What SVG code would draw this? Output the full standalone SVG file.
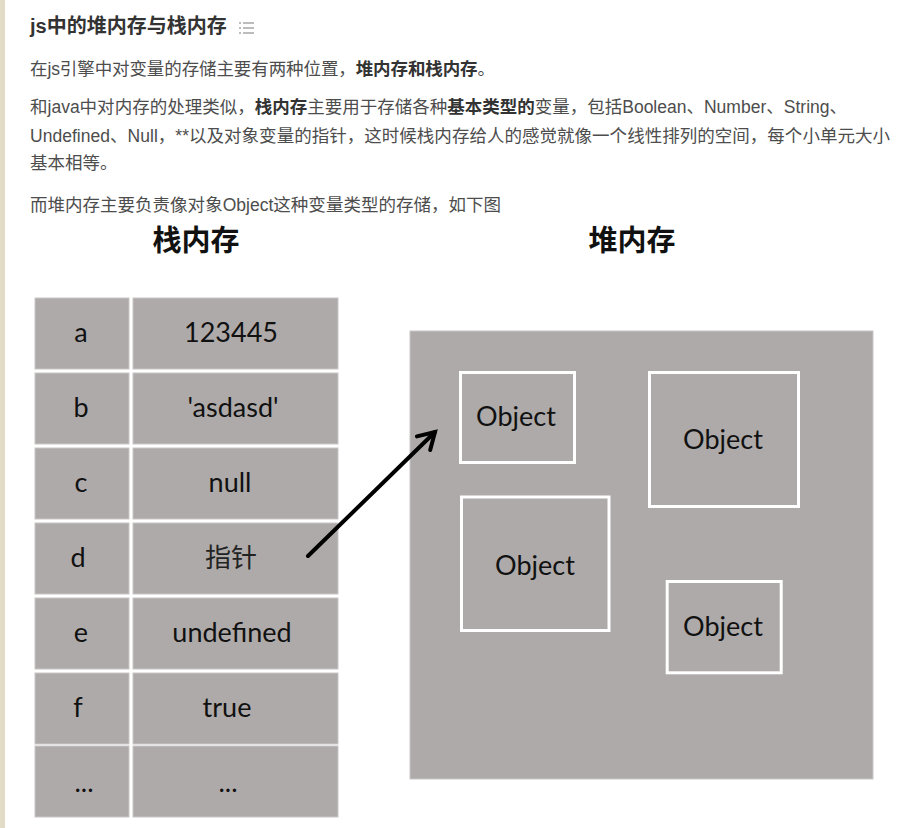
<svg xmlns="http://www.w3.org/2000/svg" width="904" height="828" viewBox="0 0 904 828">
<style>
.body{font-family:"Liberation Sans","Noto Sans CJK SC",sans-serif;font-size:17.5px;fill:#4d4d4d}
.b{font-weight:bold;fill:#333}
.title{font-family:"Liberation Sans","Noto Sans CJK SC",sans-serif;font-size:20px;font-weight:bold;fill:#333}
.head{font-family:"Noto Sans CJK SC",sans-serif;font-size:29px;font-weight:bold;fill:#111;text-anchor:middle}
.cell{fill:#aeaaa9;stroke:#c9c6c5;stroke-width:1}
.ct{font-family:Lato,"Noto Sans CJK SC",sans-serif;font-size:27px;fill:#111;text-anchor:middle}
.cjk{font-family:"Noto Sans CJK SC",sans-serif;font-size:26px;fill:#222;text-anchor:middle}
.obj{fill:#aeaaa9;stroke:#fff;stroke-width:3}
.icon{fill:#bdbdbd}
</style>
<defs>
<marker id="arr" markerUnits="userSpaceOnUse" markerWidth="30" markerHeight="30" refX="0" refY="0" viewBox="-20 -15 30 30" orient="auto" overflow="visible">
<path d="M -16 -9.5 L 0 0 L -16 9.5" fill="none" stroke="#000" stroke-width="4" stroke-linecap="round" stroke-linejoin="miter"/>
</marker>
</defs>
<rect x="0" y="0" width="904" height="828" fill="#fff"/>
<rect x="0" y="0" width="5" height="828" fill="#e2dcc6"/>

<g id="header">
<text class="title" x="30" y="33">js中的堆内存与栈内存</text>
<rect class="icon" x="239" y="22" width="2" height="2"/>
<rect class="icon" x="243" y="22" width="11" height="2"/>
<rect class="icon" x="239" y="27" width="2" height="2"/>
<rect class="icon" x="243" y="27" width="11" height="2"/>
<rect class="icon" x="239" y="32" width="2" height="2"/>
<rect class="icon" x="243" y="32" width="11" height="2"/>
<text class="body" x="30" y="74.5" textLength="465" lengthAdjust="spacing">在js引擎中对变量的存储主要有两种位置，<tspan class="b">堆内存和栈内存</tspan>。</text>
<text class="body" x="30" y="113" textLength="817" lengthAdjust="spacing">和java中对内存的处理类似，<tspan class="b">栈内存</tspan>主要用于存储各种<tspan class="b">基本类型的</tspan>变量，包括Boolean、Number、String、</text>
<text class="body" x="30" y="141.5" textLength="860" lengthAdjust="spacing">Undefined、Null，**以及对象变量的指针，这时候栈内存给人的感觉就像一个线性排列的空间，每个小单元大小</text>
<text class="body" x="30" y="169">基本相等。</text>
<text class="body" x="30" y="211" textLength="471" lengthAdjust="spacing">而堆内存主要负责像对象Object这种变量类型的存储，如下图</text>
</g>

<g id="stack">
<text class="head" x="196" y="251">栈内存</text>
<g id="row-a"><rect class="cell" x="35" y="298" width="94" height="71"/><rect class="cell" x="133" y="298" width="205" height="71"/><text class="ct" x="81" y="342">a</text><text class="ct" x="231" y="342">123445</text></g>
<g id="row-b"><rect class="cell" x="35" y="373" width="94" height="71"/><rect class="cell" x="133" y="373" width="205" height="71"/><text class="ct" x="81" y="417">b</text><text class="ct" x="233" y="417">'asdasd'</text></g>
<g id="row-c"><rect class="cell" x="35" y="448" width="94" height="71"/><rect class="cell" x="133" y="448" width="205" height="71"/><text class="ct" x="81" y="492">c</text><text class="ct" x="230" y="492">null</text></g>
<g id="row-d"><rect class="cell" x="35" y="523" width="94" height="71"/><rect class="cell" x="133" y="523" width="205" height="71"/><text class="ct" x="78" y="567">d</text><text class="cjk" x="231" y="567">指针</text></g>
<g id="row-e"><rect class="cell" x="35" y="598" width="94" height="71"/><rect class="cell" x="133" y="598" width="205" height="71"/><text class="ct" x="81" y="642">e</text><text class="ct" x="232" y="642">undefined</text></g>
<g id="row-f"><rect class="cell" x="35" y="673" width="94" height="71"/><rect class="cell" x="133" y="673" width="205" height="71"/><text class="ct" x="78" y="717">f</text><text class="ct" x="227" y="717">true</text></g>
<g id="row-g"><rect class="cell" x="35" y="746" width="94" height="71"/><rect class="cell" x="133" y="746" width="205" height="71"/><text class="ct" x="84" y="792">...</text><text class="ct" x="228" y="792">...</text></g>
</g>

<g id="heap">
<text class="head" x="632" y="251">堆内存</text>
<rect x="410" y="331" width="463" height="448" fill="#aeaaa9" stroke="#c9c6c5" stroke-width="1"/>
</g>
<g id="obj1"><rect class="obj" x="460.5" y="372.5" width="114" height="90"/><text class="ct" x="516" y="426">Object</text></g>
<g id="obj2"><rect class="obj" x="649.5" y="372.5" width="149" height="134"/><text class="ct" x="723" y="449">Object</text></g>
<g id="obj3"><rect class="obj" x="461.5" y="497" width="147.5" height="133.5"/><text class="ct" x="535" y="575">Object</text></g>
<g id="obj4"><rect class="obj" x="667.2" y="581.5" width="114" height="91.3"/><text class="ct" x="723" y="636">Object</text></g>

<g id="connectors">
<line x1="308" y1="556" x2="435" y2="432" stroke="#000" stroke-width="4" stroke-linecap="round" marker-end="url(#arr)"/>
</g>
</svg>
